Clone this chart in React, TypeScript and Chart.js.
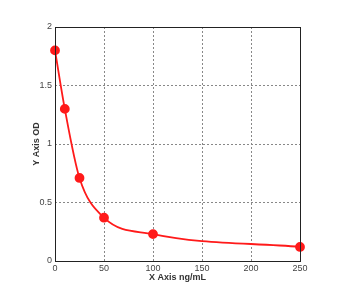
import React, { useEffect, useRef } from "react";
import { Chart, registerables } from "chart.js";

Chart.register(...registerables);

const concentrations = [0, 10, 25, 50, 100, 250];
const odValues = [1.8, 1.3, 0.71, 0.37, 0.23, 0.12];
const xTicks = [0, 50, 100, 150, 200, 250];
const yTicks = [0, 0.5, 1, 1.5, 2];
const xTitle = "X Axis ng/mL";
const yTitle = "Y Axis OD";

const framePlugin = {
  id: "frame",
  afterDraw(chart: any) {
    const { ctx, chartArea } = chart;
    ctx.save();
    ctx.strokeStyle = "#222";
    ctx.lineWidth = 1;
    ctx.setLineDash([]);
    ctx.strokeRect(
      Math.round(chartArea.left) + 0.5,
      Math.round(chartArea.top) + 0.5,
      Math.round(chartArea.right - chartArea.left),
      Math.round(chartArea.bottom - chartArea.top)
    );
    ctx.restore();
  },
};

export default function App() {
  const ref = useRef<HTMLCanvasElement>(null);
  useEffect(() => {
    if (!ref.current) return;
    const gridColor = (ctx: any, edges: number[]) =>
      edges.includes(ctx.tick?.value) ? "rgba(0,0,0,0)" : "#888";
    const chart = new Chart(ref.current, {
      type: "line",
      data: {
        datasets: [
          {
            data: concentrations.map((x, i) => ({ x, y: odValues[i] })),
            borderColor: "#ff1a1a",
            backgroundColor: "#ff1a1a",
            borderWidth: 1.8,
            pointRadius: 4,
            pointHoverRadius: 4,
            cubicInterpolationMode: "monotone",
            fill: false,
            clip: false as any,
          },
        ],
      },
      options: {
        animation: false,
        responsive: false,
        maintainAspectRatio: false,
        layout: { padding: { left: 31, top: 27, right: 51, bottom: 10 } },
        plugins: { legend: { display: false }, tooltip: { enabled: false } },
        scales: {
          x: {
            type: "linear",
            min: 0,
            max: 250,
            afterBuildTicks: (s: any) => {
              s.ticks = xTicks.map((v) => ({ value: v }));
            },
            afterFit: (s: any) => {
              s.height = 22;
            },
            ticks: {
              color: "#444",
              font: { family: "Liberation Sans", size: 9 },
              padding: 2,
              maxRotation: 0,
            },
            grid: {
              color: (c: any) => gridColor(c, [0, 250]),
              lineWidth: 1,
              drawTicks: false,
            },
            border: { display: false, dash: [2, 2] },
            title: {
              display: true,
              text: xTitle,
              color: "#333",
              font: { family: "Liberation Sans", size: 9, weight: "bold" },
              padding: { top: 1, bottom: 0 },
            },
          },
          y: {
            type: "linear",
            min: 0,
            max: 2,
            afterBuildTicks: (s: any) => {
              s.ticks = yTicks.map((v) => ({ value: v }));
            },
            afterFit: (s: any) => {
              s.width = 24;
            },
            ticks: {
              color: "#444",
              font: { family: "Liberation Sans", size: 9 },
              padding: 3,
              callback: (v: any) => String(v),
            },
            grid: {
              color: (c: any) => gridColor(c, [0, 2]),
              lineWidth: 1,
              drawTicks: false,
            },
            border: { display: false, dash: [2, 2] },
            title: {
              display: true,
              text: yTitle,
              color: "#333",
              font: { family: "Liberation Sans", size: 9, weight: "bold" },
              padding: { top: 0, bottom: 2 },
            },
          },
        },
      },
      plugins: [framePlugin],
    });
    return () => chart.destroy();
  }, []);
  return (
    <div style={{ position: "fixed", left: 0, top: 0, width: 351, height: 293, background: "#fff" }}>
      <canvas ref={ref} width={351} height={293} style={{ width: 351, height: 293 }} />
    </div>
  );
}
